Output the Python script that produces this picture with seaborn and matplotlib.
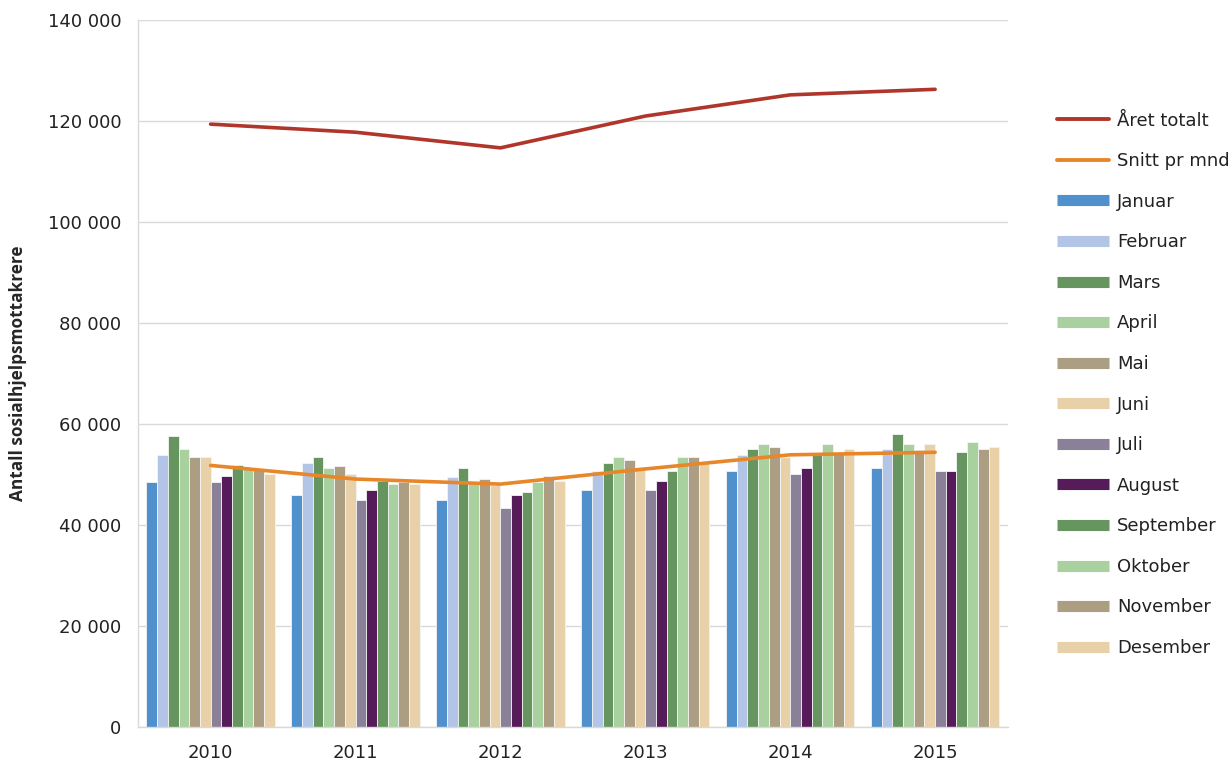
import numpy as np
import pandas as pd
import seaborn as sns
import matplotlib.pyplot as plt
from matplotlib.lines import Line2D
from matplotlib.ticker import FuncFormatter, FixedLocator

years = ['2010', '2011', '2012', '2013', '2014', '2015']
months = ['Januar', 'Februar', 'Mars', 'April', 'Mai', 'Juni', 'Juli',
          'August', 'September', 'Oktober', 'November', 'Desember']

# monthly recipients per year (rows: years, cols: months)
monthly = [
    [48600, 53800, 57600, 55000, 53400, 53400, 48600, 49700, 51800, 51200, 51000, 50200],
    [45900, 52300, 53400, 51200, 51700, 50200, 44900, 47000, 48800, 48100, 48600, 48100],
    [44900, 49600, 51200, 48300, 49100, 47900, 43300, 45900, 46500, 48600, 49700, 48700],
    [47000, 50700, 52300, 53400, 52900, 51500, 47000, 48700, 50700, 53400, 53400, 52200],
    [50700, 53800, 55000, 56000, 55500, 53400, 50200, 51200, 53900, 56000, 54200, 55000],
    [51200, 55000, 58100, 56000, 54800, 56000, 50700, 50700, 54400, 56500, 55000, 55400],
]
total_year = [119400, 117800, 114700, 121000, 125200, 126300]
avg_month = [51800, 49100, 48100, 51100, 53900, 54400]

month_colors = ['#4F90CD', '#B3C5E6', '#66955F', '#A9D09F', '#AB9E82', '#E8D0A9',
                '#8A8097', '#561C5A', '#66955F', '#A9D09F', '#AB9E82', '#E8D0A9']
col_total = '#B0362B'
col_avg = '#E8872A'

df = pd.DataFrame(monthly, index=years, columns=months)
df = df.reset_index().melt(id_vars='index', var_name='Måned', value_name='Antall')
df = df.rename(columns={'index': 'År'})

sns.set_style('white')
plt.rcParams['font.family'] = ['DejaVu Sans']
plt.rcParams['text.color'] = '#222222'
plt.rcParams['xtick.color'] = '#222222'
plt.rcParams['ytick.color'] = '#222222'

fig = plt.figure(figsize=(12.28, 7.6), dpi=100)
ax = fig.add_axes([0.1125, 0.0435, 0.708, 0.93])

sns.barplot(data=df, x='År', y='Antall', hue='Måned', order=years, hue_order=months,
            palette=month_colors, width=0.885, saturation=1, edgecolor='#F4F4F4',
            linewidth=0.6, legend=False, ax=ax)

xpos = np.arange(len(years))
sns.lineplot(x=xpos, y=total_year, color=col_total, linewidth=2.6, ax=ax)
sns.lineplot(x=xpos, y=avg_month, color=col_avg, linewidth=2.6, ax=ax)

ax.set_xlim(-0.5, len(years) - 0.5)
ax.set_ylim(0, 140000)
ax.set_yticks(np.arange(0, 140001, 20000))
ax.yaxis.set_major_formatter(FuncFormatter(lambda v, p: f'{int(v):,}'.replace(',', ' ')))
ax.grid(axis='y', color='#D9D9D9', linewidth=1)
ax.set_axisbelow(True)
ax.set_xticks(xpos)
ax.set_xticklabels(years)
ax.xaxis.set_minor_locator(FixedLocator(np.arange(-0.5, len(years), 1)))
ax.tick_params(axis='x', which='major', length=0, pad=12, labelsize=13)
ax.tick_params(axis='x', which='minor', length=5, color='#D9D9D9', width=1)
ax.tick_params(axis='y', length=0, pad=12, labelsize=13)
for s in ['top', 'right']:
    ax.spines[s].set_visible(False)
for s in ['left', 'bottom']:
    ax.spines[s].set_color('#D9D9D9')
    ax.spines[s].set_linewidth(1)
ax.set_xlabel('')
ax.set_ylabel('Antall sosialhjelpsmottakrere', fontsize=12.4, fontweight='bold',
              family=['Open Sans', 'DejaVu Sans'], labelpad=15)

handles = [Line2D([0], [0], color=col_total, lw=2.8),
           Line2D([0], [0], color=col_avg, lw=2.8)]
handles += [Line2D([0], [0], color=c, lw=8, solid_capstyle='butt') for c in month_colors]
labels = ['Året totalt', 'Snitt pr mnd'] + months
fig.legend(handles, labels, loc='upper left', bbox_to_anchor=(0.853, 0.865),
           frameon=False, fontsize=13, handlelength=2.9, handletextpad=0.45,
           labelspacing=1.25, borderpad=0)

fig.savefig('out.png', dpi=100)
